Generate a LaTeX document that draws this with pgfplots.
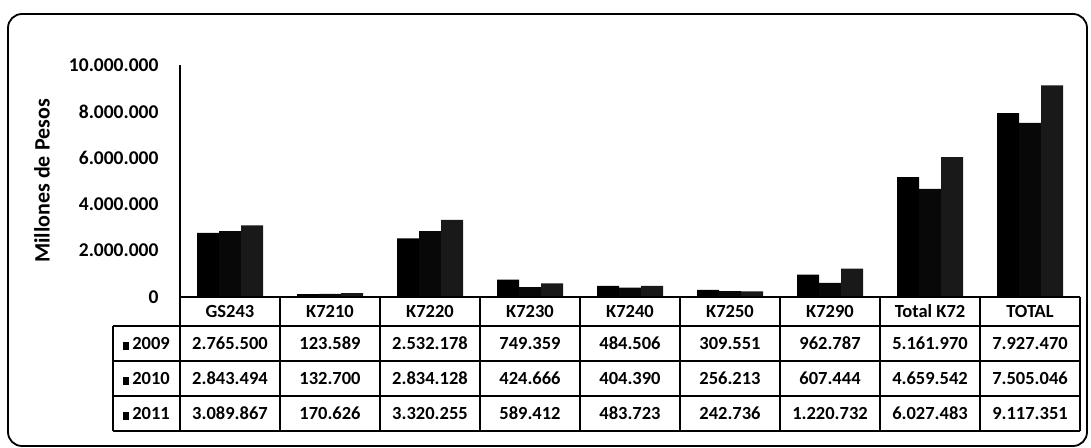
\documentclass[border=0pt]{standalone}
\usepackage{fontspec}
\setmainfont{Carlito}
\usepackage{pgfplots}
\pgfplotsset{compat=1.18}
\newcommand{\tf}{\fontsize{18.5}{22}\selectfont\bfseries}
\begin{document}
\begin{tikzpicture}[x=1pt,y=1pt]
\useasboundingbox (0,0) rectangle (1091,447);
\draw[line width=1.8pt, rounded corners=14pt] (8,1) rectangle (1087,433);
\begin{axis}[
  at={(180pt,150pt)}, anchor=origin,
  scale only axis, width=900pt, height=232pt,
  xmin=0, xmax=9, ymin=0, ymax=10000000,
  axis lines=left, axis line style={-, line width=1.5pt},
  ybar=0pt, bar width=22pt,
  xtick={0.5,1.5,...,8.5},
  xticklabels={GS243,K7210,K7220,K7230,K7240,K7250,K7290,Total K72,TOTAL},
  xticklabel style={anchor=center, yshift=-14.5pt, font=\tf},
  ytick={0,2000000,4000000,6000000,8000000,10000000},
  scaled y ticks=false,
  major tick length=0pt,
  yticklabel style={anchor=east, xshift=-18pt, font=\fontsize{19.5}{22}\selectfont\bfseries,
     /pgf/number format/.cd, fixed, 1000 sep={.}, assume math mode=true},
  clip=false,
]
\addplot[fill=black, draw=none] coordinates {(0.5,2765500) (1.5,123589) (2.5,2532178) (3.5,749359) (4.5,484506) (5.5,309551) (6.5,962787) (7.5,5161970) (8.5,7927470)};
\addplot[fill=black!97, draw=none] coordinates {(0.5,2843494) (1.5,132700) (2.5,2834128) (3.5,424666) (4.5,404390) (5.5,256213) (6.5,607444) (7.5,4659542) (8.5,7505046)};
\addplot[fill=black!90, draw=none] coordinates {(0.5,3089867) (1.5,170626) (2.5,3320255) (3.5,589412) (4.5,483723) (5.5,242736) (6.5,1220732) (7.5,6027483) (8.5,9117351)};
\end{axis}
% y label
\node[rotate=90, font=\fontsize{22}{24}\selectfont\bfseries] at (42,266) {Millones de Pesos};
% table grid
\begin{scope}[line width=1.5pt]
\draw (180,150) -- (1080,150);
\draw (113,121) -- (1080,121);
\draw (113,86) -- (1080,86);
\draw (113,51) -- (1080,51);
\draw (113,16) -- (1080,16);
\draw (113,121) -- (113,16);
\foreach \i in {0,...,9} { \draw (180+100*\i,150) -- (180+100*\i,16); }
\end{scope}
% row labels
\foreach \yr/\yy in {2009/103.5, 2010/68.5, 2011/33.5} {
  \node[font=\tf] at (146.5,\yy) {\rule{6pt}{8pt}\,\yr};
}
% values
\foreach \v [count=\i from 0] in {2.765.500,123.589,2.532.178,749.359,484.506,309.551,962.787,5.161.970,7.927.470}
  { \node[font=\tf] at (230+100*\i,103.5) {\v}; }
\foreach \v [count=\i from 0] in {2.843.494,132.700,2.834.128,424.666,404.390,256.213,607.444,4.659.542,7.505.046}
  { \node[font=\tf] at (230+100*\i,68.5) {\v}; }
\foreach \v [count=\i from 0] in {3.089.867,170.626,3.320.255,589.412,483.723,242.736,1.220.732,6.027.483,9.117.351}
  { \node[font=\tf] at (230+100*\i,33.5) {\v}; }
\end{tikzpicture}
\end{document}
